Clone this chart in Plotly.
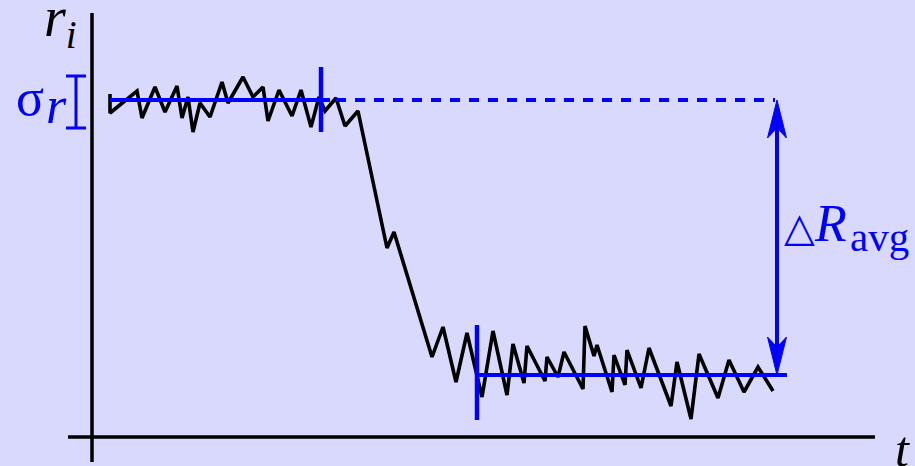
import plotly.graph_objects as go

# Response r_i sampled over time t (origin at the axis crossing)
t_samples = [18, 18, 45, 50, 63, 73, 85, 90, 96, 101, 108, 118, 130, 136, 151, 161,
             171, 176, 187, 200, 209, 219, 227, 233, 244, 253, 266, 295, 302, 340,
             351, 364, 375, 390, 401, 415, 421, 432, 435, 453, 455, 466, 472, 491,
             493, 502, 505, 520, 522, 533, 535, 549, 557, 579, 585, 599, 607, 626,
             637, 652, 666, 681]
r_samples = [343, 324, 346, 319, 350, 325, 351, 319, 340, 305, 334, 320, 355, 334, 360, 340,
             350, 316, 347, 321, 347, 310, 340, 326, 339, 311, 326, 189, 205, 80,
             110, 55, 104, 40, 106, 42, 93, 54, 91, 56, 80, 60, 85, 48,
             111, 81, 92, 45, 82, 52, 87, 49, 89, 31, 75, 18, 83, 39,
             77, 45, 70, 46]

# Averaged levels before and after the transition
r_high = 337
r_low = 62
high_span = [18, 238]      # window used for the upper average
low_span = [385, 695]      # window used for the lower average
dash_end = 683
arrow_t = 685
high_tick = [229, 305, 370]   # t, r_min, r_max
low_tick = [385, 17, 112]
sigma_bar = [-16, 309, 361]   # t, r_min, r_max
sigma_cap = 10

BG = "#d9d9fe"
BLUE = "#0000ff"
SERIF = "Liberation Serif"

fig = go.Figure()

# measured signal
fig.add_trace(go.Scatter(x=t_samples, y=r_samples, mode="lines",
                         line=dict(color="black", width=3.6), hoverinfo="skip"))

# upper average (solid part and its dashed extension)
fig.add_trace(go.Scatter(x=high_span, y=[r_high, r_high], mode="lines",
                         line=dict(color=BLUE, width=4)))
fig.add_trace(go.Scatter(x=[high_span[1] + 6, dash_end], y=[r_high, r_high], mode="lines",
                         line=dict(color=BLUE, width=4, dash="10px,9px")))
# lower average
fig.add_trace(go.Scatter(x=low_span, y=[r_low, r_low], mode="lines",
                         line=dict(color=BLUE, width=4)))
# window markers
for tk in (high_tick, low_tick):
    fig.add_trace(go.Scatter(x=[tk[0], tk[0]], y=[tk[1], tk[2]], mode="lines",
                             line=dict(color=BLUE, width=4.5)))

# double arrow for the difference of the averages
head_len, head_half, notch = 38, 9.5, 10
fig.add_trace(go.Scatter(x=[arrow_t, arrow_t], y=[r_high - 20, r_low + 20], mode="lines",
                         line=dict(color=BLUE, width=4)))
for tip, sgn in ((r_high, -1), (r_low, 1)):
    fig.add_trace(go.Scatter(
        x=[arrow_t, arrow_t - head_half, arrow_t, arrow_t + head_half, arrow_t],
        y=[tip, tip + sgn * head_len, tip + sgn * (head_len - notch), tip + sgn * head_len, tip],
        mode="lines", fill="toself", fillcolor=BLUE, line=dict(color=BLUE, width=1)))

# sigma bracket
sx, s0, s1 = sigma_bar
fig.add_trace(go.Scatter(x=[sx, sx], y=[s0, s1], mode="lines", line=dict(color=BLUE, width=3)))
for yy in (s0, s1):
    fig.add_trace(go.Scatter(x=[sx - sigma_cap, sx + sigma_cap], y=[yy, yy], mode="lines",
                             line=dict(color=BLUE, width=3)))

# axes
fig.add_shape(type="line", x0=0, x1=0, y0=-25, y1=424, line=dict(color="black", width=3.5))
fig.add_shape(type="line", x0=-24, x1=783, y0=0, y1=0, line=dict(color="black", width=3.5))

def label(x, y, text, size, color="black", xanchor="center", yanchor="middle", family=SERIF):
    fig.add_annotation(x=x, y=y, text=text, showarrow=False, xanchor=xanchor, yanchor=yanchor,
                       borderpad=0, font=dict(family=family, size=size, color=color))

label(-32, 416, "<i>r<sub>i</sub></i>", 56)
label(-62, 340, "σ", 52, BLUE)
label(-36, 332, "<i>r</i>", 52, BLUE)
label(724, 210, "△", 40, BLUE, xanchor="right", family="DejaVu Sans")
label(756, 214, "<i>R</i>", 52, BLUE, xanchor="right")
label(757, 200, "avg", 41, BLUE, xanchor="left")
label(819, -12, "<i>t</i>", 50, xanchor="right")

fig.update_layout(
    width=915, height=466, margin=dict(l=0, r=0, t=0, b=0),
    paper_bgcolor=BG, plot_bgcolor=BG, showlegend=False,
    xaxis=dict(range=[-92, 823], visible=False, fixedrange=True),
    yaxis=dict(range=[-29, 437], visible=False, fixedrange=True),
)

fig.write_html("out.html")
